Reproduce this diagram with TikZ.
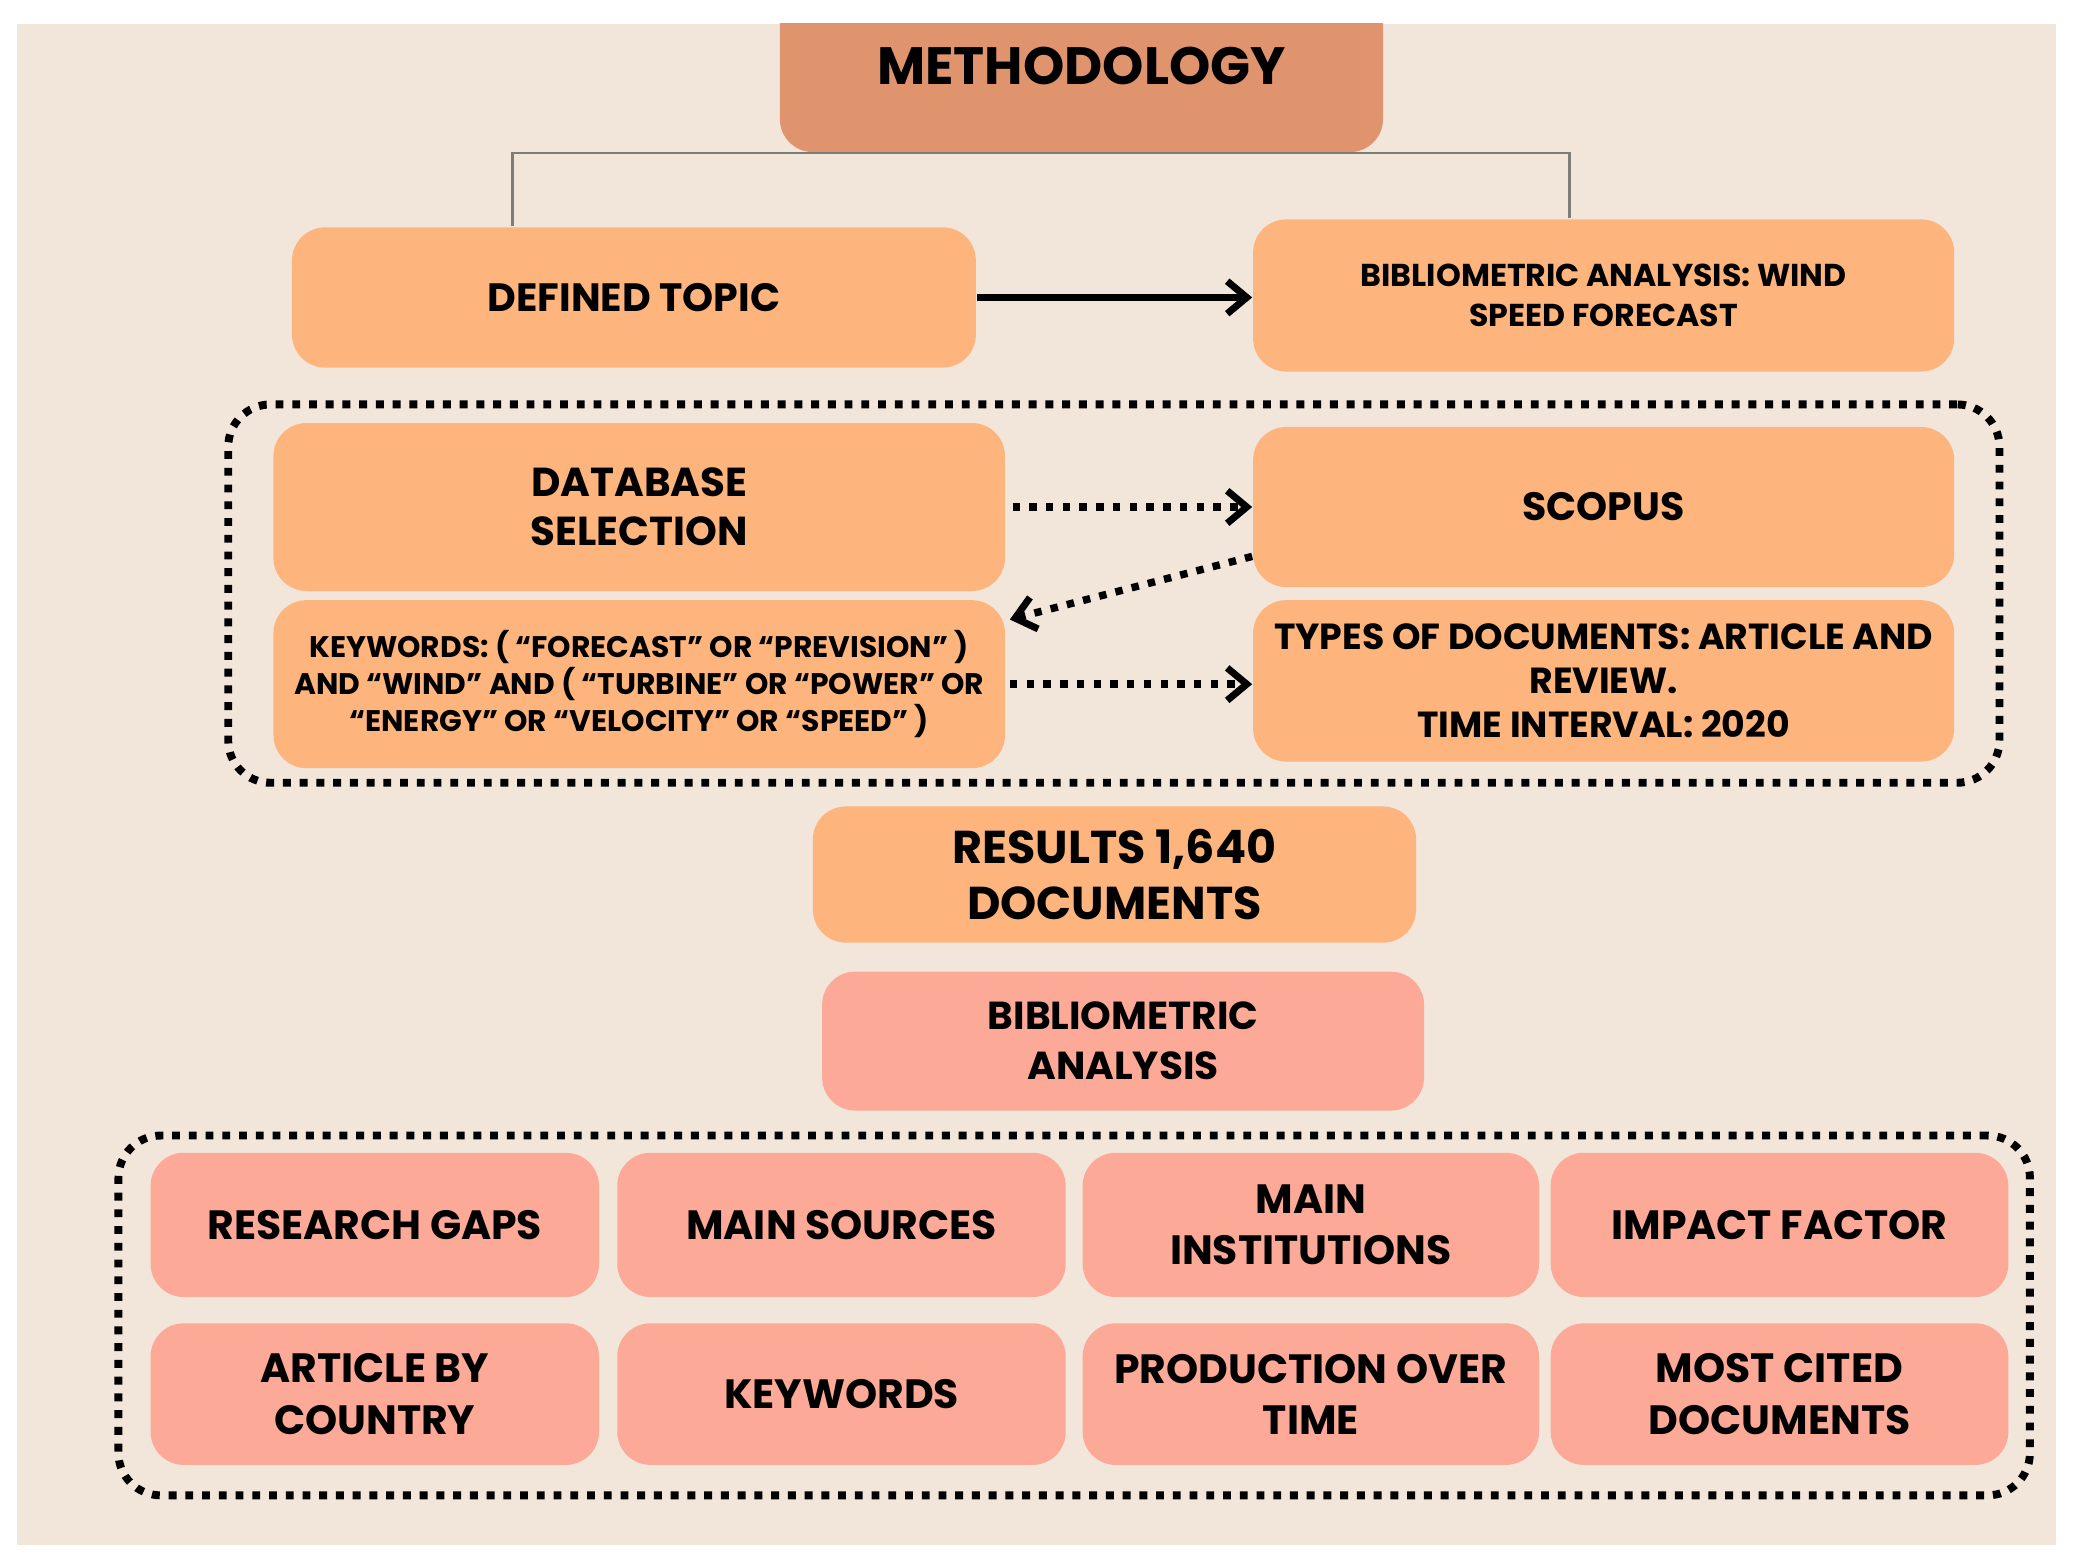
\documentclass[tikz,border=0pt]{standalone}
\usepackage{fontspec}
\setmainfont{Poppins}
\usepackage{tikz}
\usetikzlibrary{arrows.meta}
\definecolor{bgbeige}{RGB}{242,229,218}
\definecolor{methclr}{RGB}{224,148,110}
\definecolor{boxorange}{RGB}{253,181,125}
\definecolor{boxpink}{RGB}{252,169,152}
\definecolor{branchgray}{RGB}{128,124,118}
\tikzset{%
  tipC/.tip={Straight Barb[length=4.2pt,width=7pt,line width=1.5pt]},
  cardbox/.style={rounded corners=0.25cm, inner sep=0pt, align=center},
  obox/.style={cardbox, fill=boxorange},
  pbox/.style={cardbox, fill=boxpink},
  dotframe/.style={draw, line width=1.7pt, dash pattern=on 1.7pt off 1.9pt, rounded corners=0.32cm, inner sep=0pt},
  dotarrow/.style={line width=1.6pt, dash pattern=on 1.6pt off 2.0pt, -tipC},
  gridbox/.style={pbox, font=\bfseries\fontsize{8.8}{11}\selectfont},
}

\begin{document}
\begin{tikzpicture}[x=0.01cm,y=-0.01cm]
\useasboundingbox (0,0) rectangle (1568,1182);
\fill[bgbeige] (13,18) rectangle (1555,1169);

\begin{scope}
\clip (13,18) rectangle (1555,1169);
\node[cardbox, fill=methclr, minimum width=4.56cm, minimum height=1.30cm, font=\bfseries\fontsize{11.3}{13}\selectfont] (meth) at (818,50) {METHODOLOGY};
\end{scope}

% first level
\node[obox, minimum width=5.17cm, minimum height=1.06cm, font=\bfseries\fontsize{8.5}{10.5}\selectfont] (deftopic) at (479.5,225) {DEFINED TOPIC};
\node[obox, minimum width=5.30cm, minimum height=1.15cm, font=\bfseries\fontsize{6.8}{8.5}\selectfont] (bibwind) at (1213,223.5) {BIBLIOMETRIC ANALYSIS: WIND\\SPEED FORECAST};
\draw[branchgray, line width=0.6pt] ([xshift=-0.915cm]deftopic.north) |- (meth.south) -| ([xshift=-0.26cm]bibwind.north);
\draw[line width=1.7pt, -tipC] (deftopic.east) -- (deftopic.east -| bibwind.west);

% search box
\node[dotframe, minimum width=13.39cm, minimum height=2.86cm] (search) at (842.5,449) {};
\node[obox, minimum width=5.53cm, minimum height=1.27cm, font=\bfseries\fontsize{8.7}{10.5}\selectfont] (dbsel) at (483.5,383.5) {DATABASE\\SELECTION};
\node[obox, minimum width=5.30cm, minimum height=1.21cm, font=\bfseries\fontsize{8.5}{10.5}\selectfont] (scopus) at (1213,383.5) {SCOPUS};
\node[obox, minimum width=5.53cm, minimum height=1.27cm, font=\bfseries\fontsize{6.4}{7.9}\selectfont] (kwq) at (483.5,517.5) {KEYWORDS: ( ``FORECAST'' OR ``PREVISION'' )\\AND ``WIND'' AND ( ``TURBINE'' OR ``POWER'' OR\\``ENERGY'' OR ``VELOCITY'' OR ``SPEED'' )};
\node[obox, minimum width=5.30cm, minimum height=1.22cm, font=\bfseries\fontsize{7.8}{9.4}\selectfont] (types) at (1213,515) {TYPES OF DOCUMENTS: ARTICLE AND\\REVIEW.\\TIME INTERVAL: 2020};
\draw[dotarrow] ([xshift=0.05cm]dbsel.east) -- (dbsel.east -| scopus.west);
\draw[dotarrow] (scopus.188) -- ([xshift=0.03cm]kwq.10);
\draw[dotarrow] ([xshift=0.03cm]kwq.east) -- (kwq.east -| types.west);

\node[obox, minimum width=4.56cm, minimum height=1.03cm, font=\bfseries\fontsize{9.9}{11.9}\selectfont] (results) at (843,661.5) {RESULTS 1,640\\DOCUMENTS};
\node[pbox, minimum width=4.55cm, minimum height=1.05cm, font=\bfseries\fontsize{8.4}{10.8}\selectfont] (bibana) at (849.5,787.5) {BIBLIOMETRIC\\ANALYSIS};

% analysis grid
\node[dotframe, minimum width=14.45cm, minimum height=2.72cm] (analysis) at (812.5,995) {};
\node[gridbox, minimum width=3.39cm, minimum height=1.09cm] (gaps) at (283.5,926.5) {RESEARCH GAPS};
\node[gridbox, minimum width=3.39cm, minimum height=1.09cm] (sources) at (636.5,926.5) {MAIN SOURCES};
\node[gridbox, minimum width=3.45cm, minimum height=1.09cm] (instit) at (991.5,926.5) {MAIN\\INSTITUTIONS};
\node[gridbox, minimum width=3.46cm, minimum height=1.09cm] (impact) at (1346,926.5) {IMPACT FACTOR};
\node[gridbox, minimum width=3.39cm, minimum height=1.07cm] (country) at (283.5,1054.5) {ARTICLE BY\\COUNTRY};
\node[gridbox, minimum width=3.39cm, minimum height=1.07cm] (keyw) at (636.5,1054.5) {KEYWORDS};
\node[gridbox, minimum width=3.45cm, minimum height=1.07cm] (prodtime) at (991.5,1054.5) {PRODUCTION OVER\\TIME};
\node[gridbox, minimum width=3.46cm, minimum height=1.07cm] (mostcited) at (1346,1054.5) {MOST CITED\\DOCUMENTS};
\end{tikzpicture}
\end{document}
